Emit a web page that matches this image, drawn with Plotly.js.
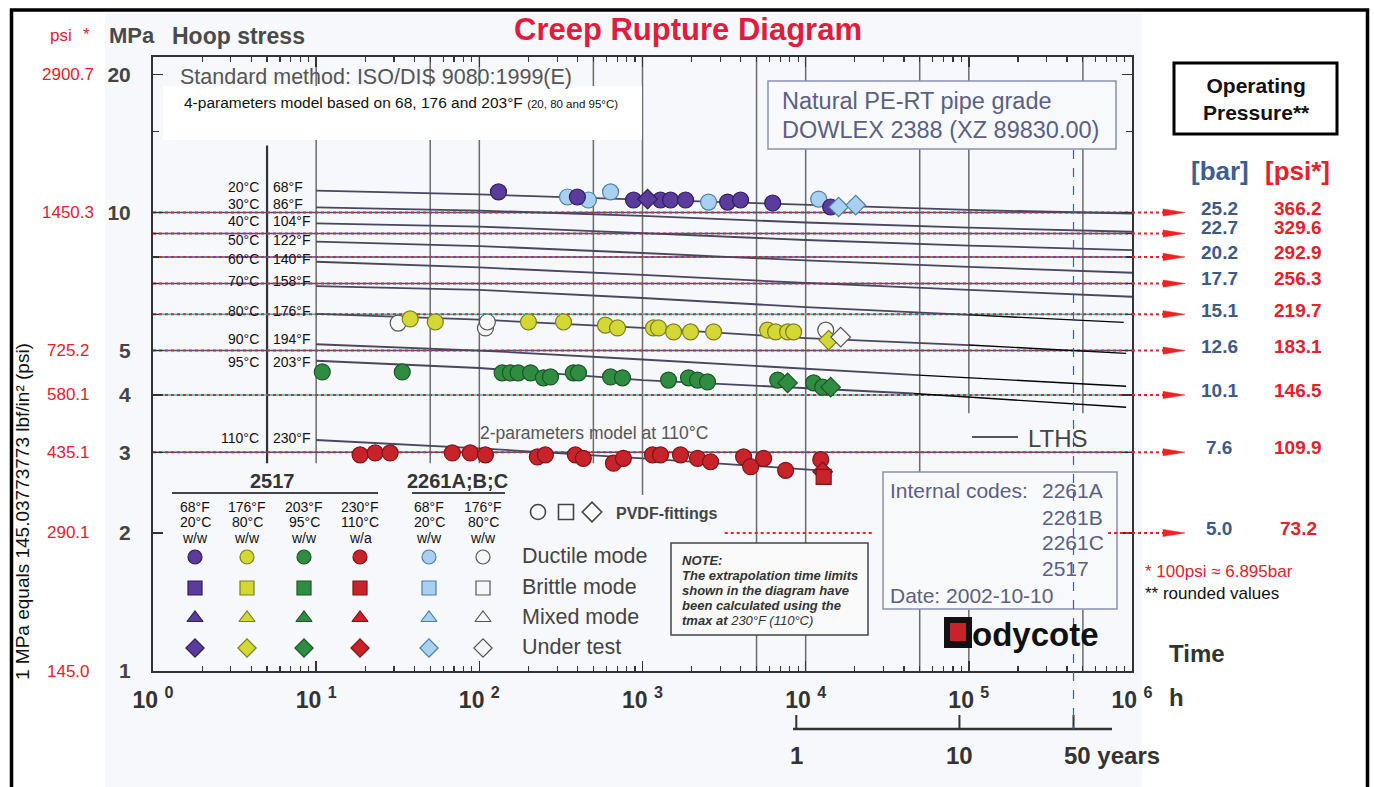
<!DOCTYPE html>
<html><head><meta charset="utf-8">
<script src="https://cdn.plot.ly/plotly-3.0.1.min.js"></script>
<style>html,body{margin:0;padding:0;background:#fff;}#chart{width:1374px;height:787px;}</style>
</head><body><div id="chart"></div>
<script>
// ================= DATA =================
// temperature labels
const tempC = ['20°C','30°C','40°C','50°C','60°C','70°C','80°C','90°C','95°C','110°C'];
const tempF = ['68°F','86°F','104°F','122°F','140°F','158°F','176°F','194°F','203°F','230°F'];

// regression lines (time h, hoop stress MPa)
const t6 = [10, 100, 1000, 10000, 100000, 1000000];
const s20 = [11.16, 10.95, 10.67, 10.38, 10.13, 9.95];
const s30 = [10.26, 10.10, 9.83, 9.51, 9.27, 9.08];
const s40 = [9.47, 9.32, 9.02, 8.71, 8.47, 8.28];
const s50 = [8.64, 8.45, 8.16, 7.86, 7.61, 7.39];
const s60 = [7.81, 7.59, 7.31, 7.02, 6.78, 6.55];
const t70 = [10, 100, 1000, 10000, 100000];
const s70 = [6.91, 6.78, 6.51, 6.22, 5.98];
const t80 = [10, 100, 1000, 10000, 100000];
const s80 = [6.01, 5.84, 5.60, 5.32, 5.14];
const t90 = [10, 100, 1000, 10000, 49000];
const s90 = [5.16, 5.00, 4.78, 4.56, 4.42];
const t95 = [10, 100, 1000, 10000, 45700];
const s95 = [4.75, 4.58, 4.31, 4.13, 4.03];
const t110 = [10, 100, 1000, 10000, 14100];
const s110 = [3.19, 3.06, 2.91, 2.76, 2.73];
// LTHS extrapolations
const lthsT70 = [100000, 890000], lthsS70 = [5.98, 5.76];
const lthsT80 = [100000, 920000], lthsS80 = [5.14, 4.93];
const lthsT90 = [49000, 920000],  lthsS90 = [4.42, 4.18];
const lthsT95 = [45700, 920000],  lthsS95 = [4.03, 3.76];

// test points (time h, stress MPa)
const purpleCircX = [131, 399, 881, 1289, 1486, 1836, 3322, 3990, 6278, 14230];
const purpleCircY = [11.09, 10.81, 10.65, 10.65, 10.65, 10.65, 10.54, 10.65, 10.49, 10.28];
const purpleDiaX = [1074];
const purpleDiaY = [10.70];
const lblueCircX = [347, 466, 637, 2540, 12020];
const lblueCircY = [10.81, 10.65, 11.09, 10.54, 10.70];
const lblueDiaX = [15920, 20270];
const lblueDiaY = [10.28, 10.38];
const yellowCircX = [37.7, 53.7, 200, 328, 593, 703, 1167, 1253, 1550, 1970, 2728, 5845, 6549, 7756, 8441];
const yellowCircY = [5.86, 5.77, 5.77, 5.77, 5.68, 5.60, 5.60, 5.60, 5.49, 5.49, 5.49, 5.54, 5.49, 5.49, 5.49];
const yellowDiaX = [13840];
const yellowDiaY = [5.27];
const whiteCircX = [31.8, 109, 112, 13270];
const whiteCircY = [5.74, 5.60, 5.77, 5.54];
const whiteDiaX = [16390];
const whiteDiaY = [5.35];
const greenCircX = [10.9, 33.7, 138, 155, 173, 206, 247, 273, 377, 405, 637, 754, 1444, 1915, 2174, 2504, 6735, 11190, 12710];
const greenCircY = [4.49, 4.49, 4.47, 4.47, 4.47, 4.47, 4.36, 4.38, 4.47, 4.47, 4.38, 4.36, 4.31, 4.36, 4.31, 4.27, 4.31, 4.25, 4.16];
const greenDiaX = [7756, 14230];
const greenDiaY = [4.25, 4.16];
const redCircX = [18.6, 23, 28.4, 68.3, 88, 109, 227, 254, 388, 434, 664, 764, 1152, 1289, 1710, 2174, 2612, 4167, 4603, 5525, 7537, 12370];
const redCircY = [2.96, 2.99, 2.99, 2.99, 2.99, 2.96, 2.93, 2.96, 2.96, 2.91, 2.84, 2.91, 2.96, 2.96, 2.96, 2.91, 2.86, 2.93, 2.79, 2.91, 2.74, 2.89];
const redDiaX = [12710];
const redDiaY = [2.72];
const redSqX = [12890];
const redSqY = [2.65];

// operating pressure reference levels
const refMPa = [10, 9, 8, 7, 6, 5, 4, 3, 2];
const barVals = ['25.2','22.7','20.2','17.7','15.1','12.6','10.1','7.6','5.0'];
const psiVals = ['366.2','329.6','292.9','256.3','219.7','183.1','146.5','109.9','73.2'];

// axis tick labels
const yTickVals = [1, 2, 3, 4, 5, 10, 20];
const yTickText = ['1','2','3','4','5','10','20'];
const psiTickText = ['145.0','290.1','435.1','580.1','725.2','1450.3','2900.7'];
const xTickVals = [1, 10, 100, 1000, 10000, 100000, 1000000];
const xTickExp = ['0','1','2','3','4','5','6'];
const yearTicks = [1, 10, 50];
const yearLabels = ['1', '10', '50 years'];

// legend table
const legF = ['68°F','176°F','203°F','230°F','68°F','176°F'];
const legC = ['20°C','80°C','95°C','110°C','20°C','80°C'];
const legW = ['w/w','w/w','w/w','w/a','w/w','w/w'];
const legModes = ['Ductile mode','Brittle mode','Mixed mode','Under test'];

// ================= LAYOUT HELPERS =================
const FONT = 'Liberation Sans, Arial, Helvetica, sans-serif';
const L = 153, R = 1132, T = 57, B = 671;
const YMAX = 1.3392;
const X = px => (px - L) / (R - L);
const Y = py => (B - py) / (B - T);
const XV = h => Math.log10(h) / 6;
const YV = v => Math.log10(v) / YMAX;
const TOP = Math.pow(10, YMAX);

const col = {
  purple: ['#5b3b9b', '#2e1f5e'], lblue: ['#a9d0f0', '#4f7fa8'], yellow: ['#d3d835', '#7d7f1e'],
  white: ['#f7f7f7', '#555555'], green: ['#2f8c40', '#1d5528'], red: ['#c8232b', '#7e1518']
};

const data = [];
// vertical grid segments [hours, low, high, dark]
const gridSegs = [
  [5, 2.84, 14.0, true], [10, 2.84, TOP], [50, 2.84, TOP], [100, 2.84, TOP], [500, 2.84, TOP],
  [1000, 2.42, TOP], [5000, 1, TOP], [10000, 1, TOP], [50000, 1, TOP],
  [100000, 3.65, TOP], [100000, 1, 1.36], [500000, 3.65, TOP], [500000, 1, 1.36]
];
gridSegs.forEach(g => data.push({x: [g[0], g[0]], y: [g[1], g[2]], mode: 'lines', hoverinfo: 'skip',
  line: {color: g[3] ? '#333' : '#6b6b6b', width: g[3] ? 2.2 : 1.5}}));

// reference (operating pressure) lines inside plot
const refBlue = ['#3a4fa0','#3a4fa0','#3a4fa0','#3a4fa0','#2fb4d6','#3a4fa0','#2fb4d6','#3a4fa0'];
refMPa.slice(0, 8).forEach((v, i) => {
  data.push({x: [1, 1e6], y: [v, v], mode: 'lines', hoverinfo: 'skip', line: {color: refBlue[i], width: 1.4}});
  data.push({x: [1, 1e6], y: [v, v], mode: 'lines', hoverinfo: 'skip', line: {color: '#ee2222', width: 2, dash: 'dot'}});
});
const ref2Segs = [[3190, 26100], [722000, 1000000]];
ref2Segs.forEach(s => data.push({x: s, y: [2, 2], mode: 'lines', hoverinfo: 'skip', line: {color: '#ee2222', width: 2, dash: 'dot'}}));

// regression lines
[[t6, s20], [t6, s30], [t6, s40], [t6, s50], [t6, s60], [t70, s70], [t80, s80], [t90, s90], [t95, s95], [t110, s110]]
  .forEach(p => data.push({x: p[0], y: p[1], mode: 'lines', hoverinfo: 'skip', line: {color: '#4a4560', width: 1.8}}));
[[lthsT70, lthsS70], [lthsT80, lthsS80], [lthsT90, lthsS90], [lthsT95, lthsS95]]
  .forEach(p => data.push({x: p[0], y: p[1], mode: 'lines', hoverinfo: 'skip', line: {color: '#000', width: 1.4}}));

// markers
function pts(x, y, c, sym) {
  data.push({x, y, mode: 'markers', hoverinfo: 'skip', cliponaxis: false,
    marker: {symbol: sym, size: sym === 'circle' ? 16 : 15, color: col[c][0], line: {color: col[c][1], width: 1.2}}});
}
pts(redCircX, redCircY, 'red', 'circle'); pts(redDiaX, redDiaY, 'red', 'diamond'); pts(redSqX, redSqY, 'red', 'square');
pts(greenCircX, greenCircY, 'green', 'circle'); pts(greenDiaX, greenDiaY, 'green', 'diamond');
pts(whiteCircX, whiteCircY, 'white', 'circle');
pts(yellowCircX, yellowCircY, 'yellow', 'circle'); pts(yellowDiaX, yellowDiaY, 'yellow', 'diamond');
pts(whiteDiaX, whiteDiaY, 'white', 'diamond');
pts(lblueCircX, lblueCircY, 'lblue', 'circle');
pts(purpleCircX, purpleCircY, 'purple', 'circle'); pts(purpleDiaX, purpleDiaY, 'purple', 'diamond');
pts(lblueDiaX, lblueDiaY, 'lblue', 'diamond');

// legend symbols on overlay pixel axes
const legColsPx = [195, 247, 304, 360, 429, 483];
const legRowsPx = [557, 588, 618, 648];
const legColKeys = ['purple', 'yellow', 'green', 'red', 'lblue', 'white'];
const legSyms = ['circle', 'square', 'triangle-up', 'diamond'];
legRowsPx.forEach((ry, r) => data.push({
  x: legColsPx, y: legColsPx.map(() => ry), xaxis: 'x2', yaxis: 'y2', mode: 'markers', hoverinfo: 'skip', cliponaxis: false,
  marker: {symbol: legSyms[r], size: 14, color: legColKeys.map(k => col[k][0]), line: {color: legColKeys.map(k => col[k][1]), width: 1.2}}
}));
data.push({x: [538, 566, 592], y: [512, 512, 512], xaxis: 'x2', yaxis: 'y2', mode: 'markers', hoverinfo: 'skip', cliponaxis: false,
  marker: {symbol: ['circle', 'square', 'diamond'], size: 15, color: '#fafafa', line: {color: '#444', width: 1.6}}});

// ================= SHAPES =================
const shapes = [];
const P = (o) => Object.assign({xref: 'paper', yref: 'paper'}, o);
shapes.push(P({type: 'rect', x0: X(105), x1: X(1142), y0: Y(14), y1: Y(790), fillcolor: '#f7f8fb', line: {width: 0}, layer: 'below'}));
shapes.push(P({type: 'rect', x0: X(11.5), x1: X(1367.5), y0: Y(10), y1: Y(805), line: {color: '#000', width: 3.5}}));
shapes.push(P({type: 'rect', x0: X(1174), x1: X(1337), y0: Y(63), y1: Y(134), line: {color: '#000', width: 3}}));
// white boxes
shapes.push(P({type: 'rect', x0: X(163), x1: X(642), y0: Y(86), y1: Y(140), fillcolor: '#ffffff', line: {width: 0}}));
shapes.push(P({type: 'rect', x0: X(768), x1: X(1116), y0: Y(81), y1: Y(149), fillcolor: '#f8f9fb', line: {color: '#8a90b0', width: 1.5}}));
shapes.push(P({type: 'rect', x0: X(671), x1: X(868), y0: Y(543), y1: Y(635), fillcolor: '#fafafa', line: {color: '#444', width: 1.5}}));
shapes.push(P({type: 'rect', x0: X(883), x1: X(1117), y0: Y(472), y1: Y(609), fillcolor: '#f8f9fb', line: {color: '#8a90b0', width: 1.5}}));
// legend underlines
shapes.push(P({type: 'line', x0: X(172), x1: X(378), y0: Y(493), y1: Y(493), line: {color: '#444', width: 2}}));
shapes.push(P({type: 'line', x0: X(412), x1: X(505), y0: Y(493), y1: Y(493), line: {color: '#444', width: 2}}));
// LTHS legend line
shapes.push(P({type: 'line', x0: X(972), x1: X(1018), y0: Y(437), y1: Y(437), line: {color: '#555', width: 2}}));
// outside dotted lines and arrow heads
refMPa.forEach(v => {
  const yy = YV(v);
  shapes.push(P({type: 'line', x0: X(v === 2 ? 1108 : 1132), x1: X(1163), y0: yy, y1: yy, line: {color: '#ee2222', width: 2, dash: 'dot'}}));
  const h = 3.6 / (B - T);
  shapes.push(P({type: 'path', path: `M ${X(1163)},${yy + h} L ${X(1185)},${yy} L ${X(1163)},${yy - h} Z`, fillcolor: '#ee2222', line: {color: '#ee2222', width: 0.5}}));
});
// years axis
shapes.push(P({type: 'line', x0: X(793), x1: X(1112), y0: Y(729), y1: Y(729), line: {color: '#333', width: 2.5}}));
yearTicks.forEach(yr => shapes.push(P({type: 'line', x0: XV(yr * 8760), x1: XV(yr * 8760), y0: Y(715), y1: Y(729), line: {color: '#333', width: 2}})));
shapes.push(P({type: 'line', x0: XV(50 * 8760), x1: XV(50 * 8760), y0: Y(150), y1: Y(729), line: {color: '#3a5acc', width: 1.2, dash: 'dash'}}));
// Bodycote logo mark
shapes.push(P({type: 'rect', x0: X(944), x1: X(972), y0: Y(617), y1: Y(648), fillcolor: '#111', line: {width: 0}}));
shapes.push(P({type: 'rect', x0: X(950), x1: X(966), y0: Y(623), y1: Y(641), fillcolor: '#c8232b', line: {width: 0}}));

// ================= ANNOTATIONS =================
const ann = [];
function A(text, px, py, size, color, o) {
  ann.push(Object.assign({text, x: X(px), y: Y(py), xref: 'paper', yref: 'paper', showarrow: false,
    xanchor: 'center', yanchor: 'middle', font: {family: FONT, size, color}}, o || {}));
}
const RED = '#e8202a', BLUE = '#3d5a88';
A('<b>Creep Rupture Diagram</b>', 688, 30, 31, '#e31b3c');
A('psi', 61, 36, 17, RED); A('*', 86, 35, 17, RED);
A('<b>MPa</b>', 107, 36, 22, '#4a4a4a', {xanchor: 'left'});
A('<b>Hoop stress</b>', 170, 36, 23, '#4a4a4a', {xanchor: 'left'});
A('1 MPa equals 145.03773773 lbf/in² (psi)', 22, 512, 19, '#111', {textangle: -90});
yTickVals.forEach((v, i) => ann.push({text: psiTickText[i], x: X(68), y: YV(v), xref: 'paper', yref: 'paper', showarrow: false,
  xanchor: 'center', yanchor: 'middle', font: {family: FONT, size: 17, color: RED}}));
A('Standard method: ISO/DIS 9080:1999(E)', 178, 77, 21.5, '#555', {xanchor: 'left'});
A('4-parameters model based on 68, 176 and 203°F <span style="font-size:11.5px">(20, 80 and 95°C)</span>', 182, 102, 15.5, '#111', {xanchor: 'left'});
A('Natural PE-RT pipe grade', 780, 101, 23.5, '#5a5f85', {xanchor: 'left'});
A('DOWLEX 2388 (XZ 89830.00)', 780, 130, 23.5, '#5a5f85', {xanchor: 'left'});
const tempLabelPy = [186.7, 204.3, 221, 240, 259.3, 280.7, 310.7, 339, 361.7, 438.3];
tempC.forEach((t, i) => {
  A(t, 261, tempLabelPy[i], 14, '#111', {xanchor: 'right'});
  A(tempF[i], 271, tempLabelPy[i], 14, '#111', {xanchor: 'left'});
});
A('2-parameters model at 110°C', 478, 433, 17.5, '#555', {xanchor: 'left'});
A('LTHS', 1026, 438, 24, '#444', {xanchor: 'left'});
// legend
A('<b>2517</b>', 272, 481, 20, '#333');
A('<b>2261A;B;C</b>', 457, 481, 20, '#333');
legColsPx.forEach((cx, i) => {
  A(legF[i], cx, 507, 14, '#111'); A(legC[i], cx, 522, 14, '#111'); A(legW[i], cx, 538, 14, '#111');
});
legModes.forEach((m, i) => A(m, 520, legRowsPx[i] - 1, 21.5, '#444', {xanchor: 'left'}));
A('<b>PVDF-fittings</b>', 614, 513, 16, '#444', {xanchor: 'left'});
// note
const noteLines = ['<b><i>NOTE:</i></b>', '<b><i>The extrapolation time limits</i></b>', '<b><i>shown in the diagram have</i></b>',
  '<b><i>been calculated using the</i></b>', '<b><i>tmax at</i></b> <i>230°F (110°C)</i>'];
noteLines.forEach((t, i) => A(t, 680, 560 + i * 15, 13, '#333', {xanchor: 'left'}));
// internal codes
A('Internal codes:', 888, 490, 21, '#5a5f85', {xanchor: 'left'});
['2261A', '2261B', '2261C', '2517'].forEach((c, i) => A(c, 1040, [490, 517, 542, 568][i], 21, '#5a5f85', {xanchor: 'left'}));
A('Date: 2002-10-10', 888, 595, 21, '#5a5f85', {xanchor: 'left'});
A('<b>odycote</b>', 970, 634, 33, '#111', {xanchor: 'left'});
A('<b>Time</b>', 1197, 653, 24, '#333');
A('<b>h</b>', 1176, 697, 24, '#333');
yearTicks.forEach((yr, i) => ann.push({text: '<b>' + yearLabels[i] + '</b>', x: XV(yr * 8760), y: Y(755), xref: 'paper', yref: 'paper',
  showarrow: false, xanchor: i === 2 ? 'left' : 'center', xshift: i === 2 ? -12 : 0, yanchor: 'middle', font: {family: FONT, size: 24, color: '#333'}}));
// operating pressure
A('<b>Operating<br>Pressure**</b>', 1256, 99, 21, '#111');
A('<b>[bar]</b>', 1220, 171, 26, '#3d5f8f');
A('<b>[psi*]</b>', 1297, 171, 26, RED);
const barShift = [4, 6, 4, 5, 4, 4, 4, 5, 4];
refMPa.forEach((v, i) => {
  ann.push({text: '<b>' + barVals[i] + '</b>', x: X(1219), y: YV(v), yshift: barShift[i], xref: 'paper', yref: 'paper', showarrow: false,
    xanchor: 'center', yanchor: 'middle', font: {family: FONT, size: 19, color: BLUE}});
  ann.push({text: '<b>' + psiVals[i] + '</b>', x: X(1298), y: YV(v), yshift: barShift[i], xref: 'paper', yref: 'paper', showarrow: false,
    xanchor: 'center', yanchor: 'middle', font: {family: FONT, size: 19, color: RED}});
});
A('* 100psi ≈ 6.895bar', 1143, 571, 17, RED, {xanchor: 'left'});
A('** rounded values', 1143, 593, 17, '#111', {xanchor: 'left'});

// ================= AXES =================
const minorX = [];
for (let d = 0; d < 6; d++) for (let k = 2; k < 10; k++) minorX.push(k * Math.pow(10, d));
const minorY = [6, 7, 8, 9, 15];

const layout = {
  width: 1374, height: 787, margin: {l: L, r: 1374 - R, t: T, b: 787 - B, pad: 0},
  paper_bgcolor: '#ffffff', plot_bgcolor: 'rgba(0,0,0,0)', showlegend: false,
  xaxis: {type: 'log', range: [0, 6], showgrid: false, zeroline: false, showline: true, linecolor: '#333', linewidth: 2,
    mirror: 'ticks', ticks: 'inside', ticklen: 10, tickwidth: 1.5, tickcolor: '#333',
    tickmode: 'array', tickvals: xTickVals, ticktext: xTickExp.map(e => '<b>10\u00a0<sup>' + e + '</sup></b>'),
    tickfont: {family: FONT, size: 23, color: '#333'}, ticklabelstandoff: 7,
    minor: {tickmode: 'array', tickvals: minorX, ticks: 'inside', ticklen: 5, tickwidth: 1.2, tickcolor: '#333', showgrid: false}, fixedrange: true},
  yaxis: {type: 'log', range: [0, YMAX], showgrid: false, zeroline: false, showline: true, linecolor: '#333', linewidth: 2,
    mirror: 'ticks', ticks: 'inside', ticklen: 10, tickwidth: 1.5, tickcolor: '#333',
    tickmode: 'array', tickvals: yTickVals, ticktext: yTickText.map(t => '<b>' + t + '</b>'),
    tickfont: {family: FONT, size: 21, color: '#444'}, ticklabelstandoff: 16,
    minor: {tickmode: 'array', tickvals: minorY, ticks: 'inside', ticklen: 6, tickwidth: 1.2, tickcolor: '#333', showgrid: false}, fixedrange: true},
  xaxis2: {overlaying: 'x', anchor: 'y2', range: [L, R], visible: false, fixedrange: true},
  yaxis2: {overlaying: 'y', anchor: 'x2', range: [B, T], visible: false, fixedrange: true},
  shapes, annotations: ann
};
data.forEach(d => { d.showlegend = false; });
Plotly.newPlot('chart', data, layout, {staticPlot: true, displayModeBar: false});
</script></body></html>
